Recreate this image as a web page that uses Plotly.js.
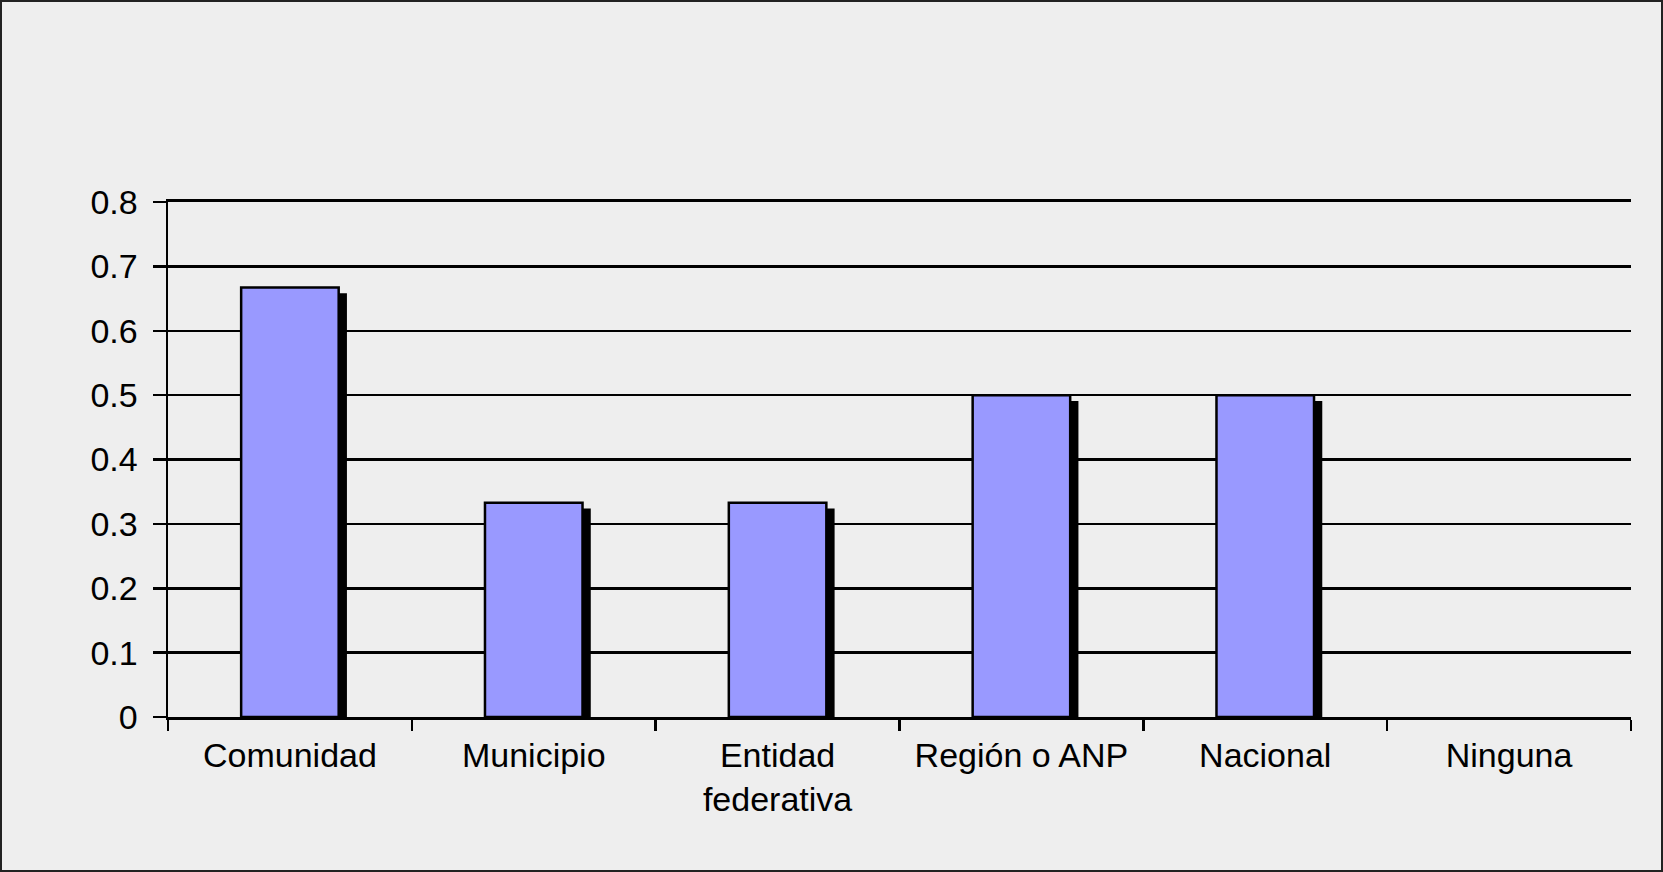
<!DOCTYPE html>
<html>
<head>
<meta charset="utf-8">
<script src="https://cdn.plot.ly/plotly-3.0.1.min.js"></script>
<style>
  html, body { margin: 0; padding: 0; background: #eeeeee; }
  #wrap { position: relative; width: 1663px; height: 872px; }
  #chart { width: 1663px; height: 872px; }
  #frame { position: absolute; left: 0; top: 0; width: 1663px; height: 872px; box-sizing: border-box; border: 2px solid #222; pointer-events: none; }
  .barlayer .point path { filter: drop-shadow(7px 7px 0 #000); }
</style>
</head>
<body>
<div id="wrap">
  <div id="chart"></div>
  <div id="frame"></div>
</div>
<script>
const categories = ["Comunidad", "Municipio", "Entidad<br>federativa", "Región o ANP", "Nacional", "Ninguna"];
const values = [0.667, 0.333, 0.333, 0.5, 0.5, 0];
const yTickValues = [0, 0.1, 0.2, 0.3, 0.4, 0.5, 0.6, 0.7, 0.8];
const yTickLabels = ["0", "0.1", "0.2", "0.3", "0.4", "0.5", "0.6", "0.7", "0.8"];

const font = { family: "Liberation Sans, Arial, sans-serif", size: 34, color: "#000" };

const trace = {
  type: "bar",
  x: categories,
  y: values,
  marker: {
    color: "#9999ff",
    line: { color: "#000", width: values.map(v => (v === 0 ? 0 : 2.5)) }
  },
  hoverinfo: "skip"
};

const layout = {
  width: 1663,
  height: 872,
  paper_bgcolor: "#eeeeee",
  plot_bgcolor: "#eeeeee",
  margin: { l: 168, r: 32, t: 202, b: 155, pad: 0 },
  showlegend: false,
  bargap: 0.6,
  font: font,
  xaxis: {
    type: "category",
    showline: true, linecolor: "#000", linewidth: 3, mirror: true,
    ticks: "outside", tickson: "boundaries", ticklen: 11, tickwidth: 2.5, tickcolor: "#000",
    showgrid: false, zeroline: false,
    tickfont: font,
    ticklabelstandoff: 6
  },
  yaxis: {
    range: [0, 0.8],
    tickvals: yTickValues, ticktext: yTickLabels,
    showline: true, linecolor: "#000", linewidth: 2.5,
    ticks: "outside", ticklen: 13, tickwidth: 2.5, tickcolor: "#000",
    showgrid: true, gridcolor: "#000", gridwidth: 2.5,
    zeroline: false,
    tickfont: font,
    ticklabelstandoff: 8
  }
};

Plotly.newPlot("chart", [trace], layout, { displayModeBar: false, staticPlot: true });
</script>
</body>
</html>
